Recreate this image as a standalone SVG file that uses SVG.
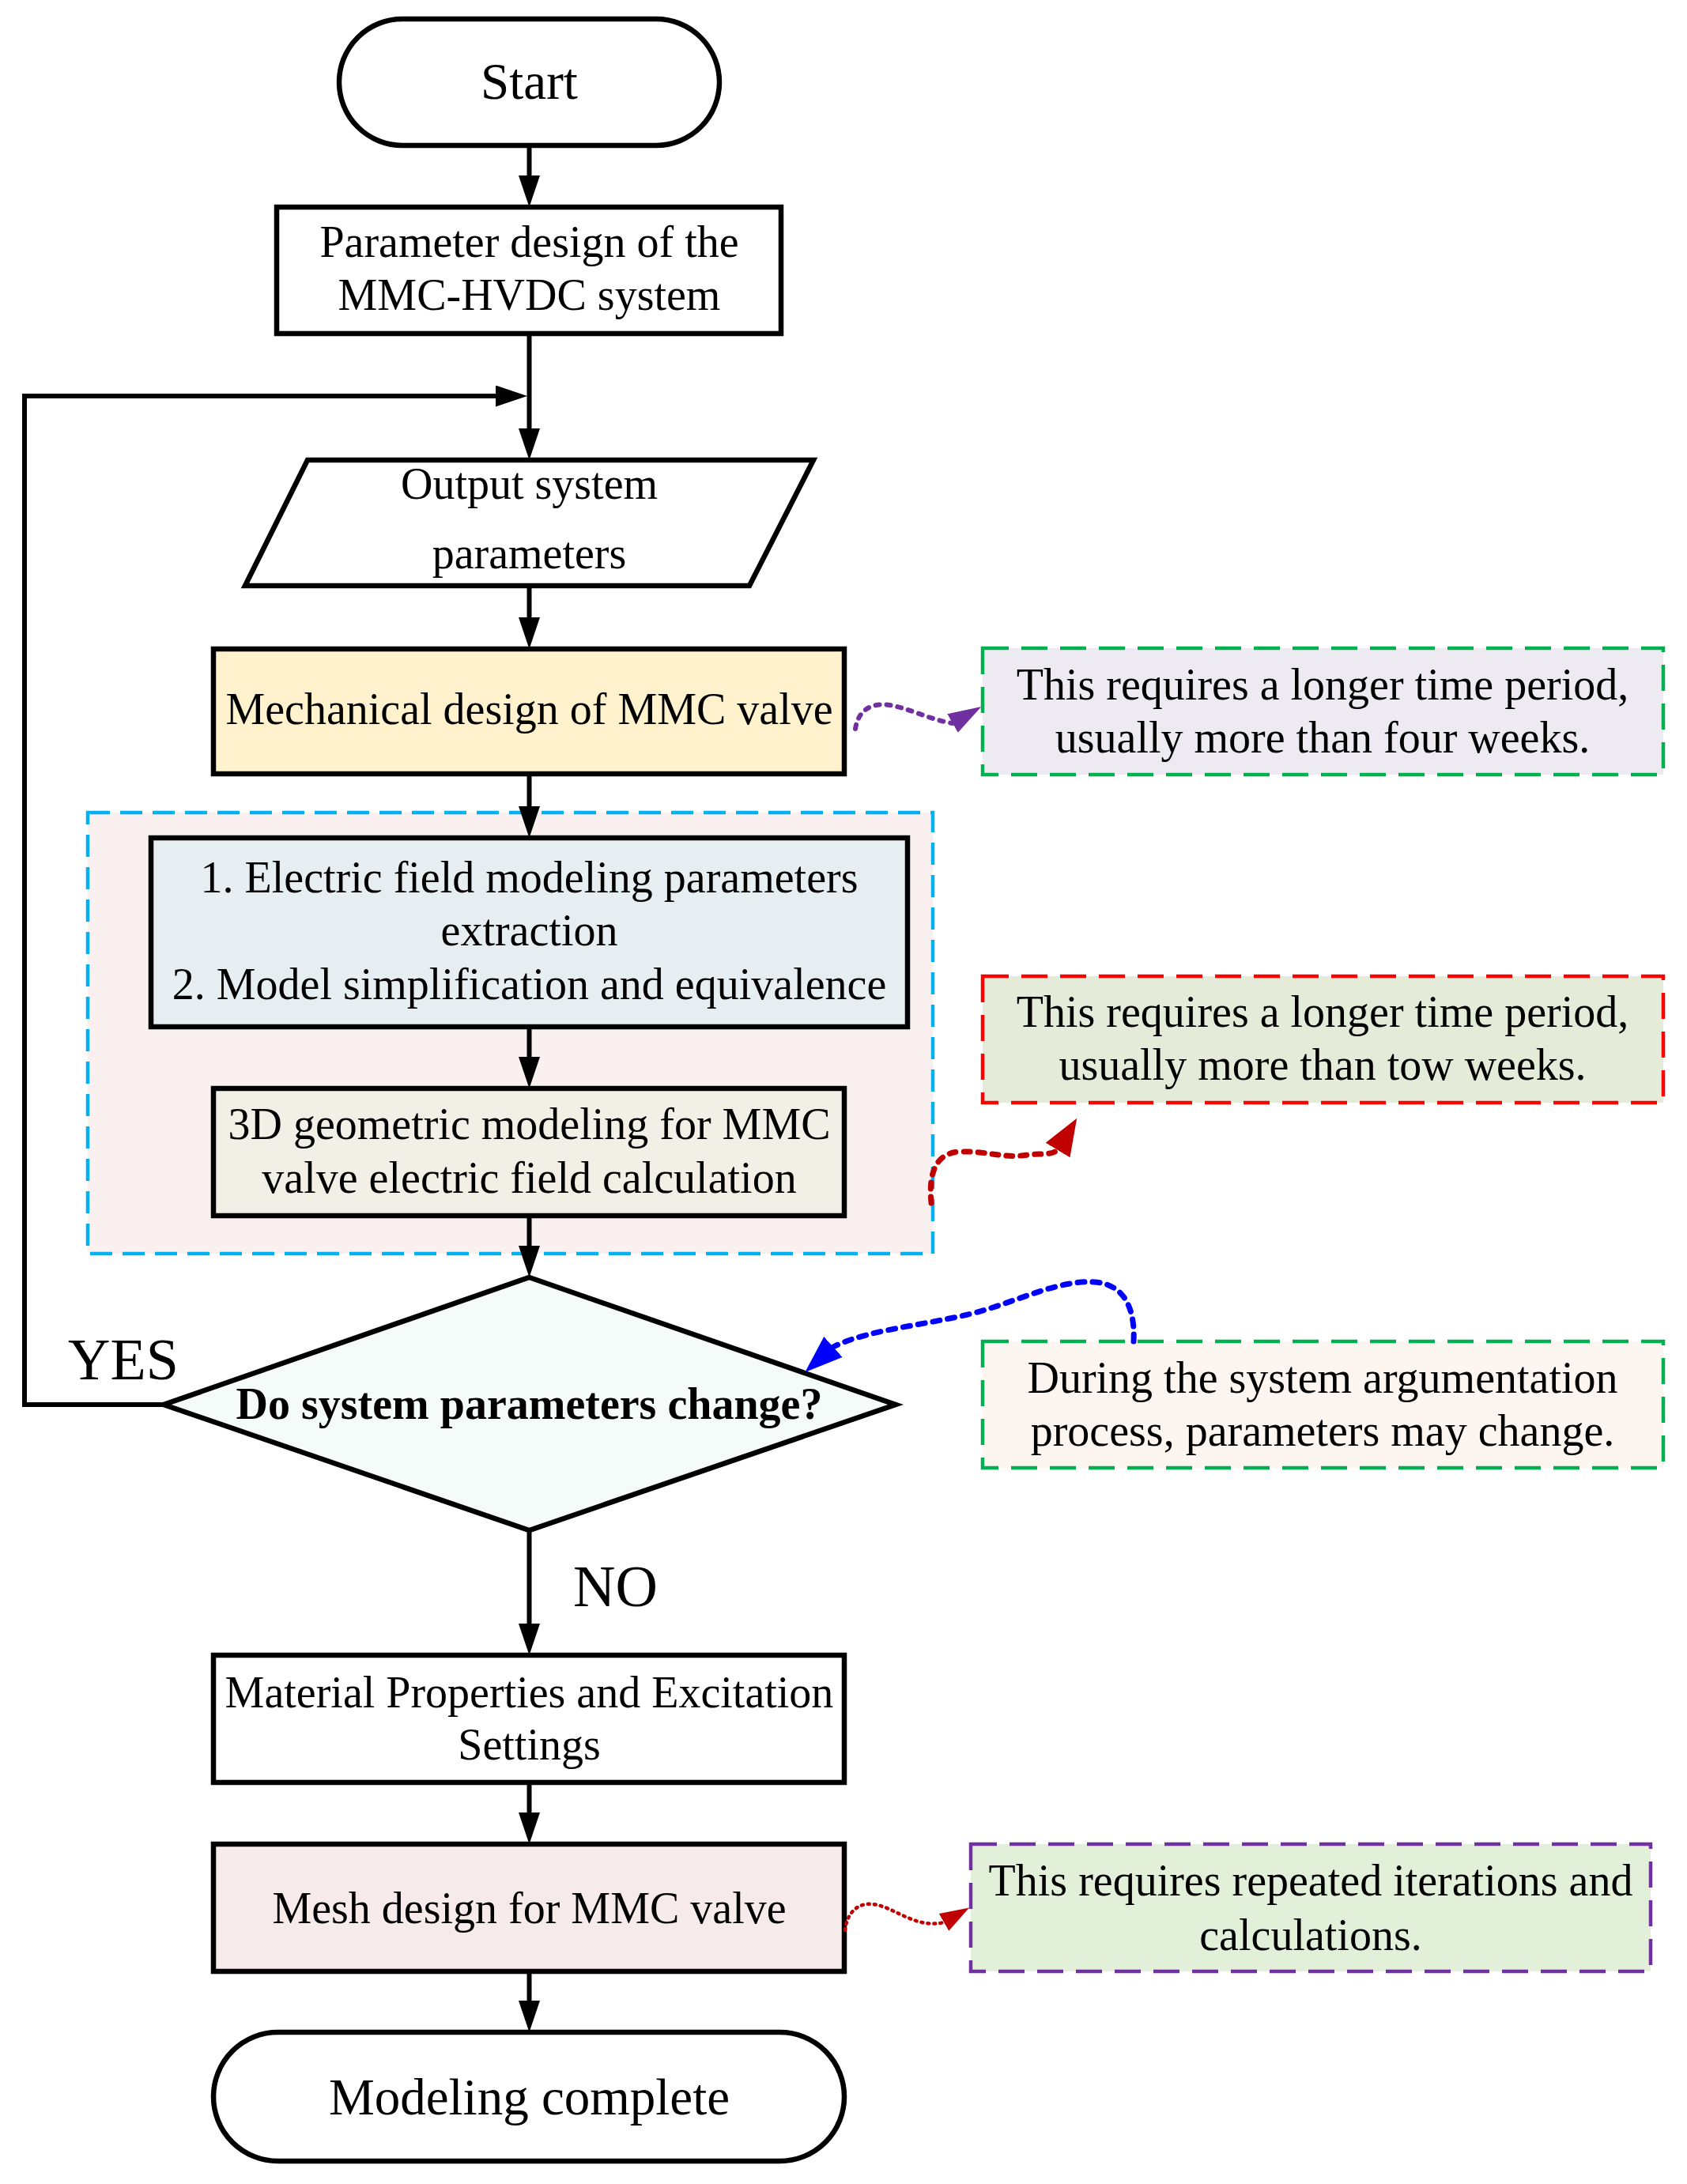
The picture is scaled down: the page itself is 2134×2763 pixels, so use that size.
<svg xmlns="http://www.w3.org/2000/svg" width="2134" height="2763" viewBox="0 0 2134 2763">
<style>
.n{stroke:#000;stroke-width:6.5;stroke-linejoin:miter}
.t{font-family:"Liberation Serif","Times New Roman",serif;font-size:56px;fill:#000;text-anchor:middle}
.big{font-size:65px}
.lab{font-size:74px;text-anchor:start}
.b{font-weight:bold}
.c{fill:none;stroke:#000;stroke-width:6}
.note{stroke-width:4.5;stroke-dasharray:33 16}
</style>
<defs>
<marker id="ah" markerUnits="userSpaceOnUse" markerWidth="42" markerHeight="28" refX="20" refY="13.5" orient="auto"><path d="M0,0 L40,13.5 L0,27 Z" fill="#000"/></marker>
<marker id="mp" markerUnits="userSpaceOnUse" markerWidth="44" markerHeight="28" refX="0" refY="13.5" orient="-30"><path d="M0,0 L42,13.5 L0,27 Z" fill="#7030A0"/></marker>
<marker id="mr" markerUnits="userSpaceOnUse" markerWidth="48" markerHeight="37" refX="0" refY="18" orient="-59"><path d="M0,0 L47,18 L0,36 Z" fill="#C00000"/></marker>
<marker id="mb" markerUnits="userSpaceOnUse" markerWidth="50" markerHeight="36" refX="0" refY="17.5" orient="138"><path d="M0,0 L48,17.5 L0,35 Z" fill="#0000FF"/></marker>
<marker id="mr2" markerUnits="userSpaceOnUse" markerWidth="38" markerHeight="26" refX="0" refY="12.5" orient="-30"><path d="M0,0 L37,12.5 L0,25 Z" fill="#C00000"/></marker>
</defs>
<rect width="2134" height="2763" fill="#fff"/>

<g id="group-box">
<rect x="111" y="1028" width="1069" height="558" fill="#F9F0EF" stroke="#00B0F0" stroke-width="4.5" stroke-dasharray="28 13"/>
</g>

<g id="start">
<rect class="n" x="429" y="24" width="481" height="160" rx="80" fill="#fff"/>
<text class="t big" x="669.5" y="125">Start</text>
</g>

<g id="param-design">
<rect class="n" x="350" y="262" width="638" height="160" fill="#fff"/>
<text class="t" x="669.5" y="325">Parameter design of the</text>
<text class="t" x="669.5" y="392">MMC-HVDC system</text>
</g>

<g id="output-params">
<polygon class="n" points="389,582 1029,582 948,741 310,741" fill="#fff"/>
<text class="t" x="669.5" y="631">Output system</text>
<text class="t" x="669.5" y="719">parameters</text>
</g>

<g id="mechanical">
<rect class="n" x="270" y="821" width="798" height="158" fill="#FFF2CC"/>
<text class="t" x="669.5" y="916">Mechanical design of MMC valve</text>
</g>

<g id="field-params">
<rect class="n" x="191" y="1060" width="957" height="239" fill="#E6EEF1"/>
<text class="t" x="669.5" y="1129">1. Electric field modeling parameters</text>
<text class="t" x="669.5" y="1196">extraction</text>
<text class="t" x="669.5" y="1264">2. Model simplification and equivalence</text>
</g>

<g id="geometric">
<rect class="n" x="270" y="1377" width="798" height="161" fill="#F2EFE7"/>
<text class="t" x="669.5" y="1441">3D geometric modeling for MMC</text>
<text class="t" x="669.5" y="1509">valve electric field calculation</text>
</g>

<g id="decision">
<polygon class="n" points="669.5,1616 1133,1777 669.5,1936 207,1777" fill="#F5FBF9"/>
<text class="t b" x="669.5" y="1795">Do system parameters change?</text>
</g>

<g id="material">
<rect class="n" x="270" y="2094" width="798" height="161" fill="#fff"/>
<text class="t" x="669.5" y="2160">Material Properties and Excitation</text>
<text class="t" x="669.5" y="2226">Settings</text>
</g>

<g id="mesh">
<rect class="n" x="270" y="2333" width="798" height="161" fill="#F6EAEA"/>
<text class="t" x="669.5" y="2433">Mesh design for MMC valve</text>
</g>

<g id="end">
<rect class="n" x="270" y="2571" width="798" height="163" rx="81.5" fill="#fff"/>
<text class="t big" x="669.5" y="2675">Modeling complete</text>
</g>

<g id="note1">
<rect class="note" x="1243" y="820" width="861" height="160" fill="#EEEAF2" stroke="#00B050"/>
<text class="t" x="1673" y="885">This requires a longer time period,</text>
<text class="t" x="1673" y="952">usually more than four weeks.</text>
</g>

<g id="note2">
<rect class="note" x="1243" y="1235" width="861" height="160" fill="#E4EBD9" stroke="#FF0000"/>
<text class="t" x="1673" y="1299">This requires a longer time period,</text>
<text class="t" x="1673" y="1366">usually more than tow weeks.</text>
</g>

<g id="note3">
<rect class="note" x="1243" y="1697" width="861" height="160" fill="#FDF5F0" stroke="#00B050"/>
<text class="t" x="1673" y="1762">During the system argumentation</text>
<text class="t" x="1673" y="1829">process, parameters may change.</text>
</g>

<g id="note4">
<rect class="note" x="1228" y="2333" width="860" height="161" fill="#E2F0D9" stroke="#7030A0"/>
<text class="t" x="1658" y="2398">This requires repeated iterations and</text>
<text class="t" x="1658" y="2467">calculations.</text>
</g>

<g id="labels">
<text class="t lab" x="86" y="1745">YES</text>
<text class="t lab" x="725" y="2032">NO</text>
</g>

<g id="connectors">
<line class="c" x1="669.5" y1="184" x2="669.5" y2="242" marker-end="url(#ah)"/>
<line class="c" x1="669.5" y1="422" x2="669.5" y2="562" marker-end="url(#ah)"/>
<line class="c" x1="669.5" y1="741" x2="669.5" y2="801" marker-end="url(#ah)"/>
<line class="c" x1="669.5" y1="979" x2="669.5" y2="1040" marker-end="url(#ah)"/>
<line class="c" x1="669.5" y1="1299" x2="669.5" y2="1357" marker-end="url(#ah)"/>
<line class="c" x1="669.5" y1="1538" x2="669.5" y2="1596" marker-end="url(#ah)"/>
<line class="c" x1="669.5" y1="1936" x2="669.5" y2="2074" marker-end="url(#ah)"/>
<line class="c" x1="669.5" y1="2255" x2="669.5" y2="2313" marker-end="url(#ah)"/>
<line class="c" x1="669.5" y1="2494" x2="669.5" y2="2551" marker-end="url(#ah)"/>
<polyline class="c" points="207,1777 31,1777 31,501 647,501" marker-end="url(#ah)"/>
<path d="M1082,922 C1086,896 1105,889 1125,892 C1150,896 1175,910 1205,915" fill="none" stroke="#7030A0" stroke-width="6" stroke-linecap="round" stroke-dasharray="5 9" marker-end="url(#mp)"/>
<path d="M1178,1522 C1175,1490 1180,1458 1215,1457 C1250,1456 1270,1466 1300,1461 C1315,1459 1328,1462 1338,1455" fill="none" stroke="#C00000" stroke-width="7" stroke-linecap="round" stroke-dasharray="8 10" marker-end="url(#mr)"/>
<path d="M1434,1697 C1436,1660 1425,1625 1385,1622 C1345,1619 1300,1640 1250,1656 C1190,1675 1100,1680 1054,1704" fill="none" stroke="#0000FF" stroke-width="7" stroke-linecap="round" stroke-dasharray="9 10" marker-end="url(#mb)"/>
<path d="M1069,2442 C1072,2415 1090,2405 1110,2410 C1135,2416 1160,2440 1194,2432" fill="none" stroke="#C00000" stroke-width="4.5" stroke-linecap="round" stroke-dasharray="2 6" marker-end="url(#mr2)"/>
</g>
</svg>
